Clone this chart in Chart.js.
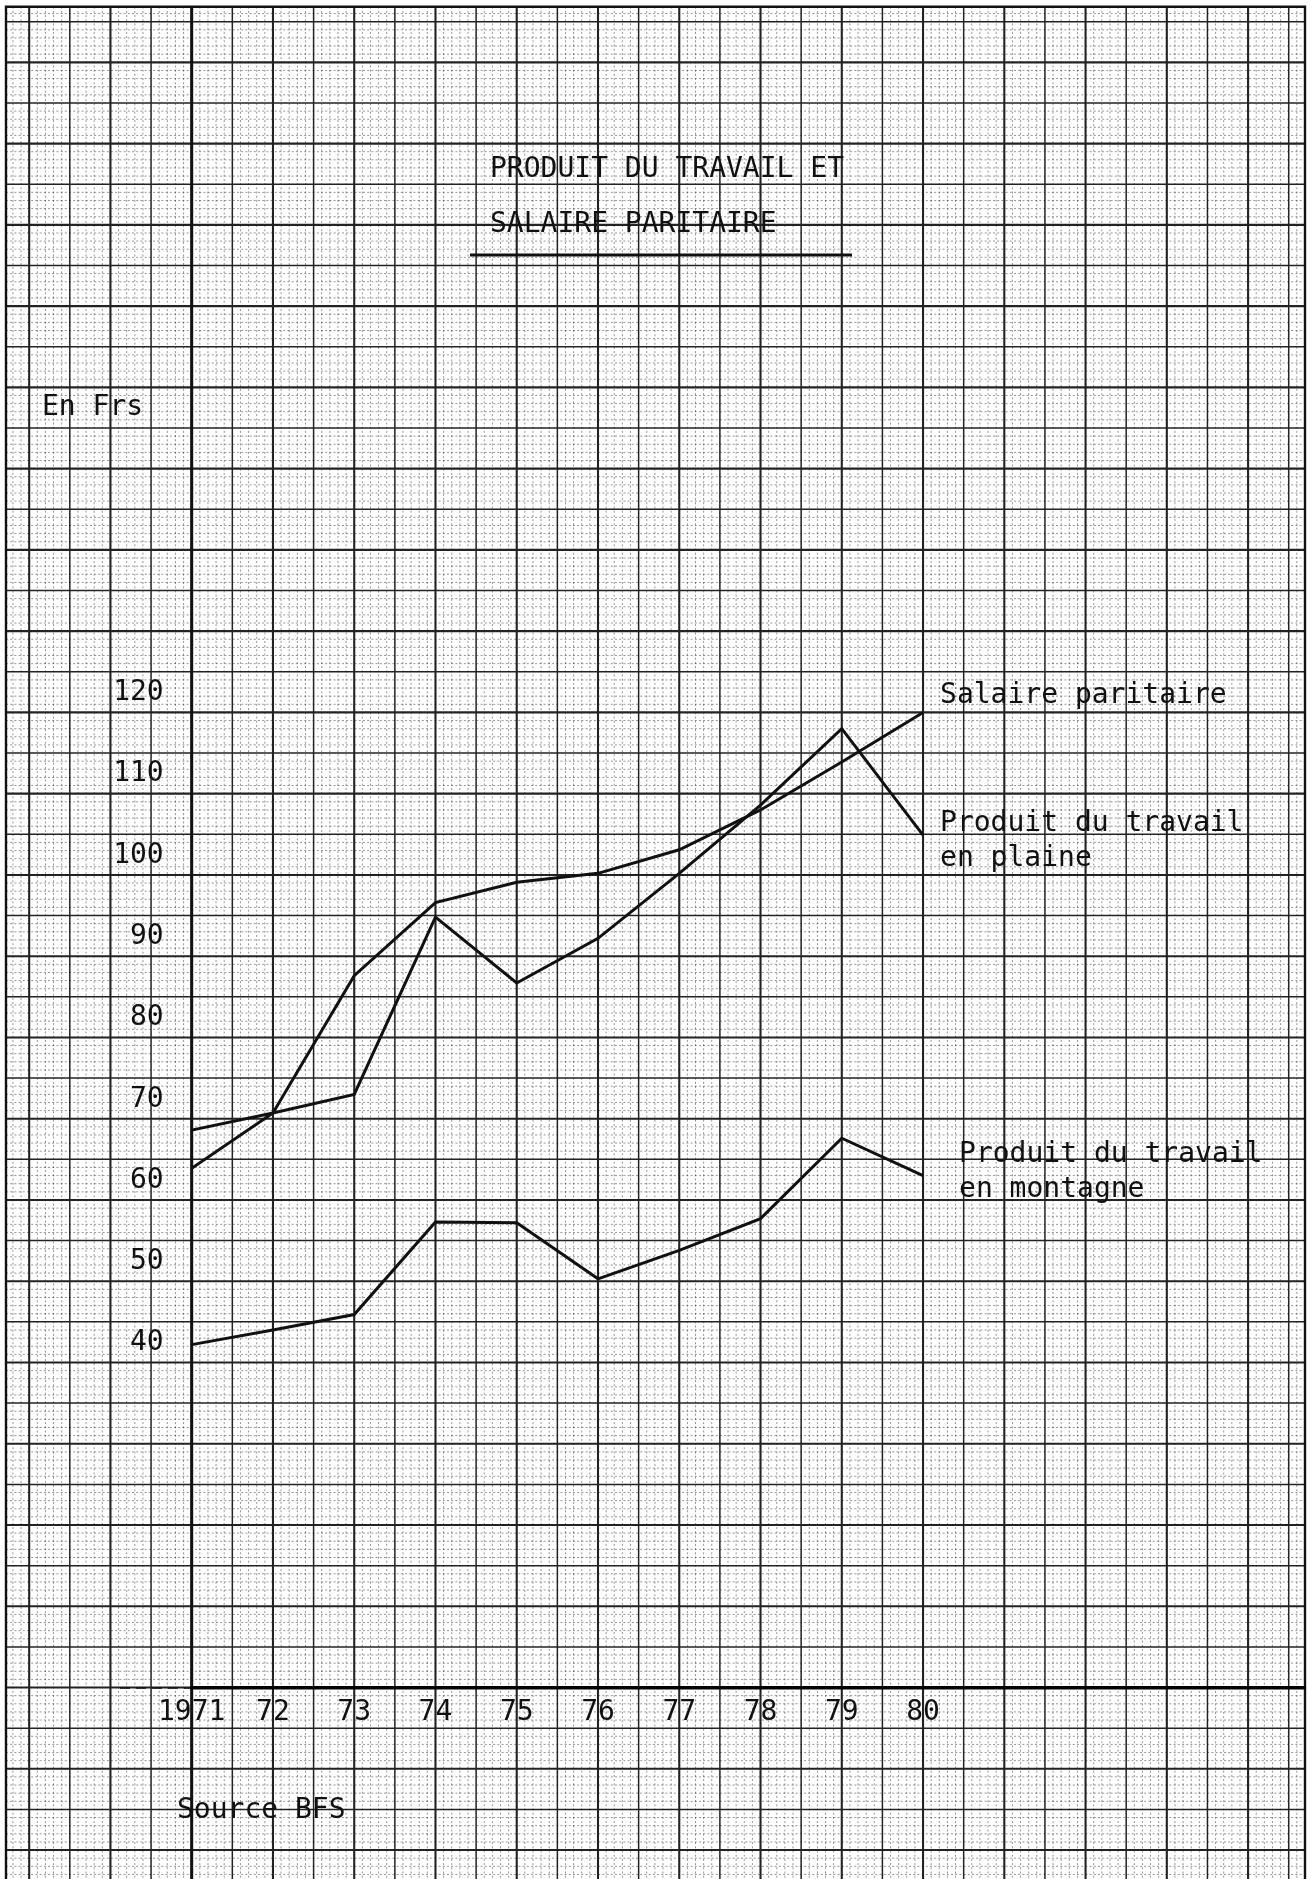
<!DOCTYPE html>
<html>
<head>
<meta charset="utf-8">
<script src="https://cdn.jsdelivr.net/npm/chart.js@4.4.1/dist/chart.umd.min.js"></script>
<style>
  html, body { margin: 0; padding: 0; background: #fff; overflow: hidden; }
  #wrap { position: relative; width: 1312px; height: 1879px; }
</style>
</head>
<body>
<div id="wrap"><canvas id="c"></canvas></div>
<script>
// ---- data ----
const years = [1971, 1972, 1973, 1974, 1975, 1976, 1977, 1978, 1979, 1980];
const yearLabels = ['1971', '72', '73', '74', '75', '76', '77', '78', '79', '80'];
const salaireParitaire = [61.5, 68.3, 85.2, 94.2, 96.7, 97.8, 100.7, 105.6, 111.5, 117.6];
const produitPlaine    = [66.2, 68.3, 70.6, 92.4, 84.3, 89.8, 97.8, 106.2, 115.6, 102.5];
const produitMontagne  = [39.8, 41.6, 43.5, 54.9, 54.8, 47.9, 51.4, 55.3, 65.2, 60.6];
const yTickValues = [40, 50, 60, 70, 80, 90, 100, 110, 120];
const titleLines = ['PRODUIT DU TRAVAIL ET', 'SALAIRE PARITAIRE'];
const yUnitLabel = 'En Frs';
const sourceLabel = 'Source BFS';
const seriesLabelLines = [
  ['Salaire paritaire'],
  ['Produit du travail', 'en plaine'],
  ['Produit du travail', 'en montagne']
];

const FONT = '"DejaVu Sans Mono", "Liberation Mono", monospace';
const INK = '#111';

// target geometry of the plotting paper (pixels)
const AXIS_X = 191.7, AXIS_Y = 1688, PX_PER_YEAR = 81.26, PX_PER_UNIT = 8.126, Y_OF_40 = 1343;

function pts(vals) { return years.map((y, i) => ({ x: y, y: vals[i] })); }

// graph-paper background
const paperPlugin = {
  id: 'paper',
  beforeDraw(chart) {
    const ctx = chart.ctx, W = chart.width, H = chart.height;
    const xs = chart.scales.x;
    const LEFT = 6, RIGHT = 1305, TOP = 6.7;
    const ax = xs.getPixelForValue(years[0]);
    const cellX = xs.getPixelForValue(years[0] + 0.5) - ax;
    const cellY = 40.63, Y0 = 21.7;
    ctx.save();
    ctx.fillStyle = '#fff';
    ctx.fillRect(0, 0, W, H);
    // minor dotted lines
    ctx.strokeStyle = 'rgba(0,0,0,0.42)';
    ctx.lineWidth = 1;
    ctx.setLineDash([2, 2.2]);
    const kx0 = Math.floor((LEFT - ax) / (cellX / 5));
    const kx1 = Math.ceil((RIGHT - ax) / (cellX / 5));
    for (let k = kx0; k <= kx1; k++) {
      if (k % 5 === 0) continue;
      const x = ax + k * cellX / 5;
      if (x <= LEFT || x >= RIGHT) continue;
      ctx.beginPath(); ctx.moveTo(x, TOP); ctx.lineTo(x, H); ctx.stroke();
    }
    const ky0 = Math.floor((TOP - Y0) / (cellY / 5));
    const ky1 = Math.ceil((H - Y0) / (cellY / 5));
    for (let k = ky0; k <= ky1; k++) {
      if (k % 5 === 0) continue;
      const y = Y0 + k * cellY / 5;
      if (y <= TOP || y > H) continue;
      ctx.beginPath(); ctx.moveTo(LEFT, y); ctx.lineTo(RIGHT, y); ctx.stroke();
    }
    ctx.setLineDash([]);
    // major solid lines
    ctx.strokeStyle = '#222';
    for (let k = Math.floor((LEFT - ax) / cellX); k <= Math.ceil((RIGHT - ax) / cellX); k++) {
      const x = ax + k * cellX;
      if (x <= LEFT + 2 || x >= RIGHT - 2) continue;
      ctx.lineWidth = (k % 2 === 0) ? 2.1 : 1.5;
      ctx.beginPath(); ctx.moveTo(x, TOP); ctx.lineTo(x, H); ctx.stroke();
    }
    for (let k = 0; Y0 + k * cellY <= H; k++) {
      const y = Y0 + k * cellY;
      ctx.lineWidth = (k % 2 === 1) ? 2.1 : 1.5;
      ctx.beginPath(); ctx.moveTo(LEFT, y); ctx.lineTo(RIGHT, y); ctx.stroke();
    }
    // paper borders
    ctx.strokeStyle = '#111';
    ctx.lineWidth = 2.4;
    ctx.beginPath(); ctx.moveTo(LEFT, H); ctx.lineTo(LEFT, TOP); ctx.lineTo(RIGHT, TOP); ctx.lineTo(RIGHT, H); ctx.stroke();
    // vertical axis running full height
    ctx.lineWidth = 3;
    ctx.beginPath(); ctx.moveTo(ax, TOP); ctx.lineTo(ax, H); ctx.stroke();
    // small hand-drawn dash left of the horizontal axis
    const yb = chart.chartArea.bottom;
    ctx.lineWidth = 1.5;
    ctx.setLineDash([10, 6]);
    ctx.beginPath(); ctx.moveTo(120, yb); ctx.lineTo(ax, yb); ctx.stroke();
    ctx.setLineDash([]);
    ctx.restore();
  }
};

// titles and series labels
const textPlugin = {
  id: 'texts',
  afterDraw(chart) {
    const ctx = chart.ctx;
    ctx.save();
    ctx.fillStyle = INK;
    ctx.font = '28px ' + FONT;
    ctx.textBaseline = 'alphabetic';
    ctx.textAlign = 'left';
    // title
    ctx.fillText(titleLines[0], 490, 177);
    ctx.fillText(titleLines[1], 490, 232);
    ctx.strokeStyle = INK;
    ctx.lineWidth = 3;
    ctx.beginPath(); ctx.moveTo(470, 255); ctx.lineTo(852, 255); ctx.stroke();
    // unit label
    ctx.fillText(yUnitLabel, 42, 415);
    // source
    ctx.fillText(sourceLabel, 177, 1818);
    // series labels next to the last points
    const offsets = [
      { dx: 17, dy: -9 },
      { dx: 17, dy: -4 },
      { dx: 36, dy: -14 }
    ];
    seriesLabelLines.forEach((lines, i) => {
      const meta = chart.getDatasetMeta(i);
      const last = meta.data[meta.data.length - 1];
      lines.forEach((t, j) => {
        ctx.fillText(t, last.x + offsets[i].dx, last.y + offsets[i].dy + j * 35);
      });
    });
    ctx.restore();
  }
};

Chart.defaults.font.family = FONT;
Chart.defaults.color = INK;

const lineStyle = {
  borderColor: '#111',
  borderWidth: 3,
  pointRadius: 0,
  tension: 0,
  fill: false
};

function noPad(scale) {
  scale.paddingTop = 0; scale.paddingBottom = 0;
  scale.paddingLeft = 0; scale.paddingRight = 0;
}

const chart = new Chart(document.getElementById('c'), {
  type: 'line',
  data: {
    datasets: [
      Object.assign({ label: seriesLabelLines[0].join(' '), data: pts(salaireParitaire) }, lineStyle),
      Object.assign({ label: seriesLabelLines[1].join(' '), data: pts(produitPlaine) }, lineStyle),
      Object.assign({ label: seriesLabelLines[2].join(' '), data: pts(produitMontagne) }, lineStyle)
    ]
  },
  options: {
    responsive: true,
    maintainAspectRatio: false,
    devicePixelRatio: 1,
    animation: false,
    layout: { padding: { left: 0, top: 6.7, right: 7, bottom: 0 } },
    plugins: {
      legend: { display: false },
      title: { display: false },
      tooltip: { enabled: false }
    },
    scales: {
      x: {
        type: 'linear',
        min: 1971,
        max: 1971 + (1305 - AXIS_X) / PX_PER_YEAR,
        grid: { display: false, drawTicks: false },
        border: { display: true, color: '#000', width: 3.5 },
        afterFit(scale) { scale.height = 1879 - AXIS_Y; noPad(scale); },
        ticks: {
          stepSize: 1,
          autoSkip: false,
          maxRotation: 0,
          padding: 8,
          font: { size: 28, family: FONT },
          color: INK,
          callback(v) {
            const i = years.indexOf(Math.round(v));
            return (i >= 0 && Math.abs(v - years[i]) < 1e-6) ? yearLabels[i] : '';
          }
        }
      },
      y: {
        type: 'linear',
        min: 40 - (AXIS_Y - Y_OF_40) / PX_PER_UNIT,
        max: 40 - (AXIS_Y - Y_OF_40) / PX_PER_UNIT + (AXIS_Y - 6.7) / PX_PER_UNIT,
        grid: { display: false, drawTicks: false },
        border: { display: false },
        afterFit(scale) { scale.width = AXIS_X; noPad(scale); },
        ticks: {
          stepSize: 10,
          autoSkip: false,
          padding: 28,
          font: { size: 28, family: FONT },
          color: INK,
          callback(v) {
            const r = Math.round(v);
            return (Math.abs(v - r) < 1e-6 && yTickValues.includes(r)) ? String(r) : '';
          }
        }
      }
    }
  },
  plugins: [paperPlugin, textPlugin]
});

// keep the value-to-pixel mapping fixed whatever area the layout gives
for (let pass = 0; pass < 3; pass++) {
  const ca = chart.chartArea;
  const xMin = 1971 - (ca.left - AXIS_X) / PX_PER_YEAR;
  const yMin = 40 - (ca.bottom - Y_OF_40) / PX_PER_UNIT;
  chart.options.scales.x.min = xMin;
  chart.options.scales.x.max = xMin + (ca.right - ca.left) / PX_PER_YEAR;
  chart.options.scales.y.min = yMin;
  chart.options.scales.y.max = yMin + (ca.bottom - ca.top) / PX_PER_UNIT;
  chart.update();
}
</script>
</body>
</html>
